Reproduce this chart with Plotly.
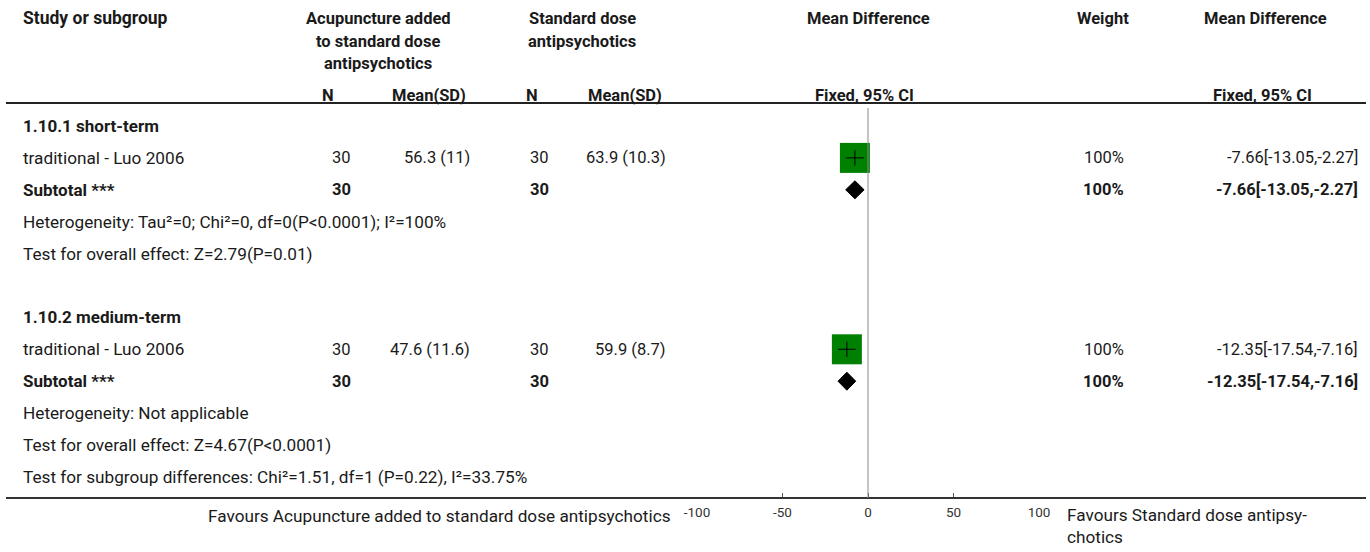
import plotly.graph_objects as go

# ---- data -------------------------------------------------------------
subgroups = ["1.10.1 short-term", "1.10.2 medium-term"]
studies = ["traditional - Luo 2006", "traditional - Luo 2006"]
exp_n = [30, 30]
exp_mean = [56.3, 47.6]
exp_sd = [11, 11.6]
ctl_n = [30, 30]
ctl_mean = [63.9, 59.9]
ctl_sd = [10.3, 8.7]
md = [-7.66, -12.35]
ci_lo = [-13.05, -17.54]
ci_hi = [-2.27, -7.16]
weight = [100, 100]
sub_md = [-7.66, -12.35]
sub_lo = [-13.05, -17.54]
sub_hi = [-2.27, -7.16]
sub_weight = [100, 100]
heterogeneity = [
    "Heterogeneity: Tau²=0; Chi²=0, df=0(P<0.0001); I²=100%",
    "Heterogeneity: Not applicable",
]
overall_effect = [
    "Test for overall effect: Z=2.79(P=0.01)",
    "Test for overall effect: Z=4.67(P<0.0001)",
]
subgroup_test = "Test for subgroup differences: Chi²=1.51, df=1 (P=0.22), I²=33.75%"
x_ticks = [-100, -50, 0, 50, 100]
x_tick_labels = ["-100", "-50", "0", "50", "100"]
favours_left = "Favours Acupuncture added to standard dose antipsychotics"
favours_right = "Favours Standard dose antipsy-<br>chotics"

# ---- layout geometry --------------------------------------------------
W, H = 1370, 552
ROW0, ROWH = 126, 31.9          # pixel centre of first row, row pitch
FONT = "Roboto"
FS_TEXT = 17.2                  # running text
FS_NUM = 16.5                   # numeric cells
FS_BOLD = 16.5                  # headings
TXT = "#1a1a1a"


def row_of(py):
    return (py - ROW0) / ROWH


def px(x):
    return x / W


fig = go.Figure()
ann = []


def text(x, row, s, anchor="left", bold=False, size=None, color=TXT):
    if size is None:
        size = FS_BOLD if bold else FS_TEXT
    ann.append(dict(
        x=px(x), xref="paper", y=row, yref="y", text=f"<b>{s}</b>" if bold else s,
        showarrow=False, xanchor=anchor, yanchor="middle", borderpad=0,
        font=dict(family=FONT, size=size, color=color),
    ))


# header
hdr_rows = [row_of(18), row_of(41), row_of(63), row_of(95)]
text(22, hdr_rows[0], "Study or subgroup", bold=True, size=17.5)
for i, line in enumerate(["Acupuncture added", "to standard dose", "antipsychotics"]):
    text(378, hdr_rows[i], line, "center", True)
for i, line in enumerate(["Standard dose", "antipsychotics"]):
    text(582, hdr_rows[i], line, "center", True)
text(868, hdr_rows[0], "Mean Difference", "center", True)
text(1103, hdr_rows[0], "Weight", "center", True)
text(1265, hdr_rows[0], "Mean Difference", "center", True)
text(328, hdr_rows[3], "N", "center", True)
text(429, hdr_rows[3], "Mean(SD)", "center", True)
text(532, hdr_rows[3], "N", "center", True)
text(625, hdr_rows[3], "Mean(SD)", "center", True)
text(864, hdr_rows[3], "Fixed, 95% CI", "center", True)
text(1262, hdr_rows[3], "Fixed, 95% CI", "center", True)

# body rows
study_rows, sub_rows = [], []
for g in range(len(subgroups)):
    base = g * 6
    r_title, r_study, r_sub = base, base + 1, base + 2
    study_rows.append(r_study)
    sub_rows.append(r_sub)
    text(22, r_title, subgroups[g], bold=True, size=17)
    text(22, r_study, studies[g])
    text(352, r_study, f"{exp_n[g]}", "right", size=FS_NUM)
    text(471, r_study, f"{exp_mean[g]:g} ({exp_sd[g]:g})", "right", size=FS_NUM)
    text(550, r_study, f"{ctl_n[g]}", "right", size=FS_NUM)
    text(667, r_study, f"{ctl_mean[g]:g} ({ctl_sd[g]:g})", "right", size=FS_NUM)
    text(1125, r_study, f"{weight[g]}%", "right", size=FS_NUM)
    text(1359, r_study, f"{md[g]:.2f}[{ci_lo[g]:.2f},{ci_hi[g]:.2f}]", "right", size=FS_NUM)
    text(22, r_sub, "Subtotal ***", bold=True, size=17)
    text(352, r_sub, f"{exp_n[g]}", "right", True)
    text(550, r_sub, f"{ctl_n[g]}", "right", True)
    text(1125, r_sub, f"{sub_weight[g]}%", "right", True)
    text(1359, r_sub, f"{sub_md[g]:.2f}[{sub_lo[g]:.2f},{sub_hi[g]:.2f}]", "right", True)
    text(22, base + 3, heterogeneity[g])
    text(22, base + 4, overall_effect[g])
text(22, 11, subgroup_test)

# footer labels
text(672, row_of(516), favours_left, "right")
ann.append(dict(
    x=px(1066), xref="paper", y=row_of(504), yref="y", text=favours_right,
    showarrow=False, xanchor="left", yanchor="top", align="left", borderpad=0,
    font=dict(family=FONT, size=FS_TEXT, color=TXT),
))

# ---- forest marks -----------------------------------------------------
fig.add_trace(go.Scatter(
    x=md, y=study_rows, mode="markers", hoverinfo="skip",
    marker=dict(symbol="square", size=30, color="#008000", line=dict(width=0)),
))
fig.add_trace(go.Scatter(
    x=md, y=study_rows, mode="markers", hoverinfo="skip",
    marker=dict(symbol="line-ns", size=11, line=dict(width=1, color="#000")),
    error_x=dict(type="data", symmetric=False,
                 array=[h - m for h, m in zip(ci_hi, md)],
                 arrayminus=[m - l for m, l in zip(md, ci_lo)],
                 color="#000", thickness=1, width=0),
))
half_h = 9 / ROWH
for g in range(len(sub_rows)):
    r = sub_rows[g]
    fig.add_trace(go.Scatter(
        x=[sub_lo[g], sub_md[g], sub_hi[g], sub_md[g], sub_lo[g]],
        y=[r, r - half_h, r, r + half_h, r],
        mode="lines", fill="toself", fillcolor="#000",
        line=dict(color="#000", width=1), hoverinfo="skip",
    ))

# ---- lines ------------------------------------------------------------
axis_y = 1 - 498 / H
shapes = [
    dict(type="line", xref="paper", yref="paper", x0=px(6), x1=px(1366),
         y0=1 - 103 / H, y1=1 - 103 / H, line=dict(color="#222", width=2)),
    dict(type="line", xref="paper", yref="paper", x0=px(6), x1=px(1366),
         y0=axis_y, y1=axis_y, line=dict(color="#333", width=2)),
    dict(type="line", xref="x", yref="paper", x0=0, x1=0,
         y0=axis_y, y1=1 - 108 / H, line=dict(color="#8a8a8a", width=1)),
]

fig.update_layout(
    width=W, height=H,
    margin=dict(l=0, r=0, t=0, b=0, pad=0, autoexpand=False),
    paper_bgcolor="white", plot_bgcolor="rgba(0,0,0,0)",
    showlegend=False, annotations=ann, shapes=shapes,
    xaxis=dict(
        domain=[px(697), px(1039)], range=[-100, 100], anchor="free",
        position=axis_y, tickvals=x_ticks, ticktext=x_tick_labels,
        ticks="inside", ticklen=5, tickcolor="#555", ticklabelstandoff=4,
        showline=False, showgrid=False, zeroline=False,
        tickfont=dict(family=FONT, size=13.5, color="#333"), fixedrange=True,
        automargin=False,
    ),
    yaxis=dict(
        domain=[0, 1], range=[row_of(H), row_of(0)], visible=False,
        showgrid=False, zeroline=False, fixedrange=True, automargin=False,
    ),
)

fig.write_html("out.html")
